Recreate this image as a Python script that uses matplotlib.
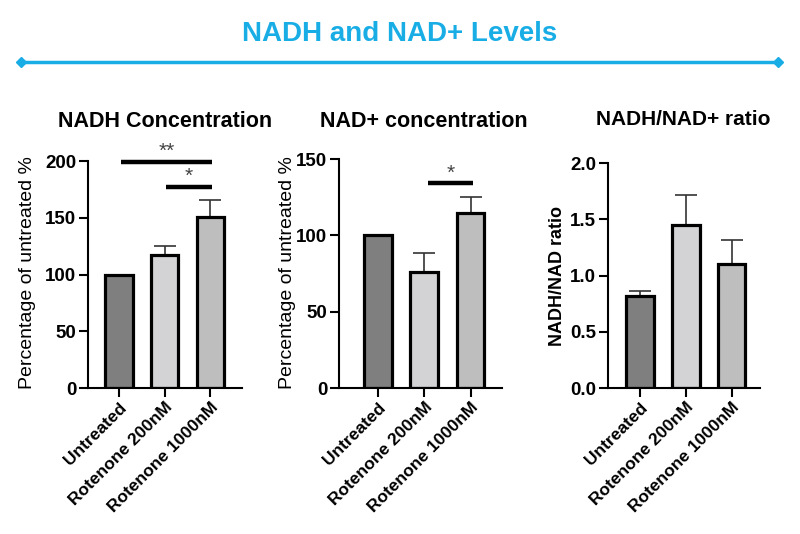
import numpy as np
import matplotlib.pyplot as plt
from matplotlib.lines import Line2D

plt.rcParams['font.family'] = ['Liberation Sans', 'DejaVu Sans']

# data
groups = ["Untreated", "Rotenone 200nM", "Rotenone 1000nM"]
nadh = [100, 117.5, 150.5]
nadh_err = [0, 8, 15]
nad = [100, 75.8, 114.4]
nad_err = [0, 12.8, 10.5]
ratio = [0.818, 1.446, 1.105]
ratio_err = [0.047, 0.272, 0.211]

# significance bars: (x start, x end, height, label)
nadh_sig = [(0.05, 2.03, 199, "**"), (1.03, 2.03, 177, "*")]
nad_sig = [(1.08, 2.05, 134, "*")]

bar_colors = ["#7f7f7f", "#d3d3d5", "#bebebe"]
cyan = "#19ade6"

fig = plt.figure(figsize=(8, 5.34), dpi=100)

# header
fig.text(0.5, 0.937, "NADH and NAD+ Levels", ha="center", va="center",
         fontsize=20, fontweight="bold", color=cyan)
fig.add_artist(Line2D([0.026, 0.973], [0.884, 0.884], color=cyan, lw=2.5,
                      marker="D", markersize=5, markevery=[0, 1],
                      transform=fig.transFigure))


def panel(rect, vals, errs, ylim, yticks, fmt, xlim, sig=()):
    ax = fig.add_axes(rect)
    x = np.arange(len(vals))
    ax.bar(x, vals, width=0.6, color=bar_colors, edgecolor="black",
           linewidth=2.3, zorder=2)
    lower = np.zeros(len(errs))
    ax.errorbar(x, vals, yerr=[lower, errs], fmt="none", ecolor="#333333",
                elinewidth=1.2, capsize=8, capthick=1.2, zorder=1)
    for a, b, h, lab in sig:
        ax.plot([a, b], [h, h], color="black", lw=3.2, solid_capstyle="butt",
                clip_on=False)
        ax.text((a + b) / 2, h + ylim[1] * 0.004, lab, ha="center",
                va="bottom", fontsize=15, color="#444444")
    ax.set_xlim(*xlim)
    ax.set_ylim(*ylim)
    ax.set_yticks(yticks)
    ax.yaxis.set_major_formatter(plt.FormatStrFormatter(fmt))
    ax.set_xticks(x)
    ax.set_xticklabels(groups, rotation=45, ha="right", va="top",
                       rotation_mode="anchor", fontsize=12.5,
                       fontweight="bold")
    for lab in ax.get_yticklabels():
        lab.set_fontsize(13.5)
        lab.set_fontweight("bold")
    for s in ["top", "right"]:
        ax.spines[s].set_visible(False)
    for s in ["left", "bottom"]:
        ax.spines[s].set_linewidth(1.5)
    ax.tick_params(width=1.5, length=6.5, pad=2)
    return ax


panel([0.11, 0.2734, 0.1925, 0.4251], nadh, nadh_err, (0, 200),
      [0, 50, 100, 150, 200], "%d", (-0.68, 2.69), nadh_sig)
panel([0.4238, 0.2734, 0.2038, 0.4288], nad, nad_err, (0, 150),
      [0, 50, 100, 150], "%d", (-0.84, 2.68), nad_sig)
panel([0.76, 0.2734, 0.19, 0.4213], ratio, ratio_err, (0, 2.0),
      [0.0, 0.5, 1.0, 1.5, 2.0], "%.1f", (-0.70, 2.62))

# panel titles
fig.text(0.206, 0.773, "NADH Concentration", ha="center", va="center",
         fontsize=15.5, fontweight="bold")
fig.text(0.53, 0.773, "NAD+ concentration", ha="center", va="center",
         fontsize=15.5, fontweight="bold")
fig.text(0.854, 0.777, "NADH/NAD+ ratio", ha="center", va="center",
         fontsize=15, fontweight="bold")

# y labels
fig.text(0.035, 0.49, "Percentage of untreated %", rotation=90,
         ha="center", va="center", fontsize=14)
fig.text(0.36, 0.49, "Percentage of untreated %", rotation=90,
         ha="center", va="center", fontsize=14)
fig.text(0.6975, 0.484, "NADH/NAD ratio", rotation=90,
         ha="center", va="center", fontsize=13, fontweight="bold")

plt.savefig("out.png", dpi=100)
